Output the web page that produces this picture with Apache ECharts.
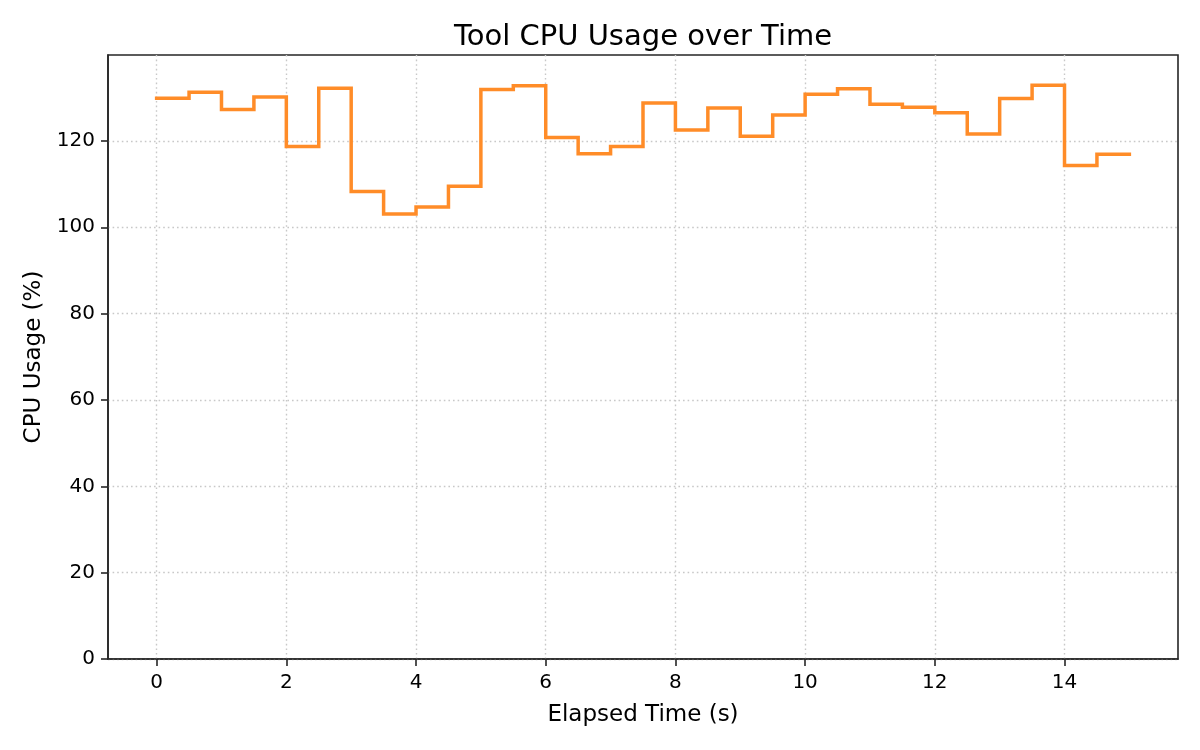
<!DOCTYPE html>
<html>
<head>
<meta charset="utf-8">
<title>Tool CPU Usage over Time</title>
<script src="https://cdn.jsdelivr.net/npm/echarts@6.0.0/dist/echarts.min.js"></script>
<style>
  html, body { margin: 0; padding: 0; background: #fff; }
  #chart { width: 1200px; height: 750px; }
</style>
</head>
<body>
<div id="chart"></div>
<script>
// samples every 0.5 s, drawn as a post-step line
var elapsed = [0, 0.5, 1, 1.5, 2, 2.5, 3, 3.5, 4, 4.5, 5, 5.5, 6, 6.5, 7, 7.5,
  8, 8.5, 9, 9.5, 10, 10.5, 11, 11.5, 12, 12.5, 13, 13.5, 14, 14.5, 15];
var cpuUsage = [129.9, 131.3, 127.3, 130.2, 118.7, 132.2, 108.3, 103.1, 104.7, 109.5,
  131.9, 132.8, 120.8, 117.0, 118.7, 128.8, 122.5, 127.6, 121.1, 126.0,
  130.8, 132.1, 128.5, 127.8, 126.5, 121.6, 129.8, 132.9, 114.3, 116.9, 116.9];
var xTicks = [0, 2, 4, 6, 8, 10, 12, 14];
var yTicks = [0, 20, 40, 60, 80, 100, 120];

var font = 'DejaVu Sans';
var chart = echarts.init(document.getElementById('chart'), null, { renderer: 'canvas' });

var gridLine = {
  show: true,
  lineStyle: { color: '#c8c8c8', type: [1.6, 3], width: 1.4 }
};

var option = {
  backgroundColor: '#ffffff',
  animation: false,
  graphic: [{
    type: 'text',
    x: 643,
    y: 37,
    style: {
      text: 'Tool CPU Usage over Time',
      font: '29px "DejaVu Sans"',
      fill: '#000000',
      align: 'center',
      verticalAlign: 'middle'
    }
  }],
  grid: {
    left: 108,
    right: 22,
    top: 55,
    bottom: 91,
    show: true,
    borderColor: '#262626',
    borderWidth: 1.6,
    containLabel: false
  },
  xAxis: {
    type: 'value',
    min: -0.75,
    max: 15.75,
    name: 'Elapsed Time (s)',
    nameLocation: 'middle',
    nameGap: 45,
    nameTextStyle: { fontFamily: font, fontSize: 23, color: '#000' },
    axisLine: { show: true, onZero: false, lineStyle: { color: '#262626', width: 1.6 } },
    axisTick: { show: true, length: 7, customValues: xTicks, lineStyle: { color: '#262626', width: 1.6 } },
    axisLabel: { customValues: xTicks, fontFamily: font, fontSize: 20, color: '#000', margin: 14 },
    splitLine: gridLine
  },
  yAxis: {
    type: 'value',
    min: 0,
    max: 139.9,
    name: 'CPU Usage (%)',
    nameLocation: 'middle',
    nameGap: 62,
    nameTextStyle: { fontFamily: font, fontSize: 23, color: '#000' },
    axisLine: { show: true, onZero: false, lineStyle: { color: '#262626', width: 1.6 } },
    axisTick: { show: true, length: 7, customValues: yTicks, lineStyle: { color: '#262626', width: 1.6 } },
    axisLabel: { customValues: yTicks, fontFamily: font, fontSize: 20, color: '#000', margin: 13 },
    splitLine: gridLine
  },
  series: [{
    name: 'CPU Usage',
    type: 'line',
    step: 'end',
    showSymbol: false,
    data: elapsed.map(function (t, i) { return [t, cpuUsage[i]]; }),
    lineStyle: { color: '#ff8c28', width: 3.5, join: 'miter', cap: 'square' },
    itemStyle: { color: '#ff8c28' }
  }]
};

chart.setOption(option);
</script>
</body>
</html>
